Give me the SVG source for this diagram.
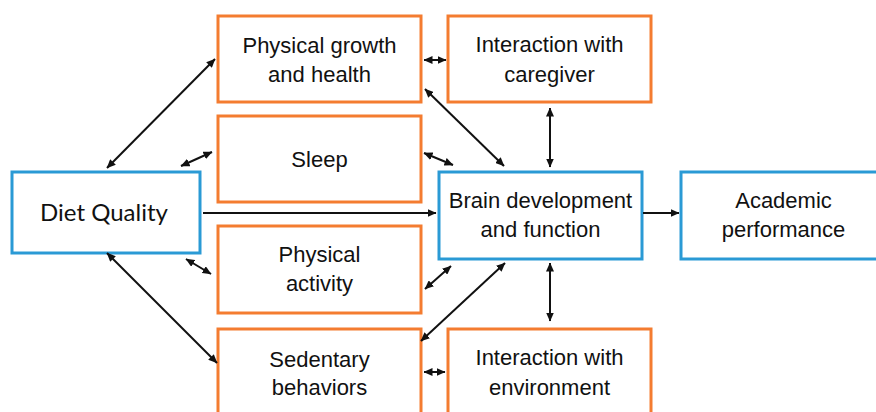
<svg xmlns="http://www.w3.org/2000/svg" width="876" height="412" viewBox="0 0 876 412">
<style>
.o{fill:#fff;stroke:#F47C30;stroke-width:3}
.b{fill:#fff;stroke:#2A9AD5;stroke-width:3}
.t{font-family:"Liberation Sans",Arial,sans-serif;font-size:22px;fill:#111;text-anchor:middle}
.d{font-family:Lato,"Open Sans",sans-serif;font-size:24px;fill:#111;text-anchor:middle}
.c line{stroke:#111;stroke-width:2;marker-end:url(#ah)}
.c line.bi{marker-start:url(#ah)}
</style>
<defs>
<marker id="ah" markerUnits="userSpaceOnUse" markerWidth="9" markerHeight="8" refX="8.5" refY="4" orient="auto-start-reverse">
<path d="M0,0 L9,4 L0,8 z" fill="#111"/>
</marker>
</defs>
<rect width="876" height="412" fill="#fff"/>
<g id="diet"><rect class="b" x="12" y="172" width="188" height="81"/><text class="d" x="104" y="221">Diet Quality</text></g>
<g id="growth"><rect class="o" x="218" y="16" width="203" height="86"/><text class="t" x="319.5" y="53">Physical growth</text><text class="t" x="319.5" y="82">and health</text></g>
<g id="sleep"><rect class="o" x="218" y="116" width="203" height="86"/><text class="t" x="319.5" y="167">Sleep</text></g>
<g id="activity"><rect class="o" x="218" y="226" width="203" height="87"/><text class="t" x="319.5" y="262">Physical</text><text class="t" x="319.5" y="291">activity</text></g>
<g id="sedentary"><rect class="o" x="218" y="329" width="203" height="90"/><text class="t" x="319.5" y="367">Sedentary</text><text class="t" x="319.5" y="395">behaviors</text></g>
<g id="caregiver"><rect class="o" x="448" y="16" width="203" height="86"/><text class="t" x="549.5" y="52">Interaction with</text><text class="t" x="549.5" y="82">caregiver</text></g>
<g id="environment"><rect class="o" x="448" y="329" width="203" height="90"/><text class="t" x="549.5" y="365">Interaction with</text><text class="t" x="549.5" y="395">environment</text></g>
<g id="brain"><rect class="b" x="439" y="172" width="203" height="87"/><text class="t" x="540.5" y="208">Brain development</text><text class="t" x="540.5" y="237">and function</text></g>
<g id="academic"><rect class="b" x="681" y="172" width="210" height="87"/><text class="t" x="783.5" y="208">Academic</text><text class="t" x="783.5" y="237">performance</text></g>
<g id="connectors" class="c">
<line class="bi" x1="107" y1="168" x2="215" y2="59"/>
<line class="bi" x1="181" y1="166" x2="212" y2="152"/>
<line x1="203" y1="213" x2="436" y2="213"/>
<line class="bi" x1="186" y1="259" x2="211" y2="274"/>
<line class="bi" x1="107" y1="253" x2="217" y2="363"/>
<line class="bi" x1="424" y1="60" x2="446" y2="60"/>
<line class="bi" x1="425" y1="89" x2="504" y2="166"/>
<line class="bi" x1="424" y1="153" x2="453" y2="165"/>
<line class="bi" x1="550" y1="108" x2="550" y2="167"/>
<line x1="643" y1="213" x2="679" y2="213"/>
<line class="bi" x1="451" y1="266" x2="425" y2="289"/>
<line class="bi" x1="505" y1="263" x2="421" y2="341"/>
<line class="bi" x1="550" y1="263" x2="550" y2="321"/>
<line class="bi" x1="424" y1="372" x2="445" y2="372"/>
</g>
</svg>
